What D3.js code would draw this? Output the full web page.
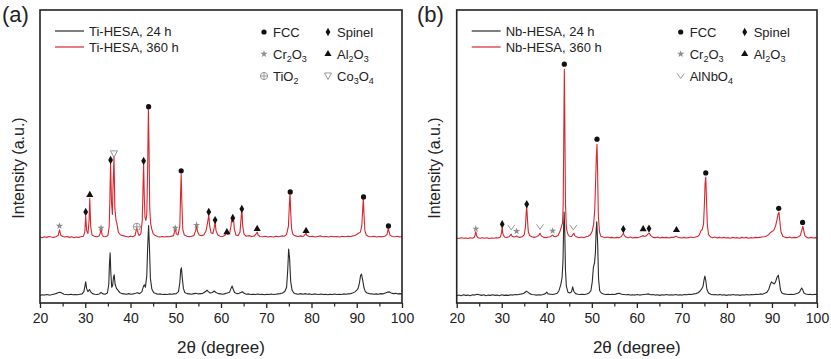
<!DOCTYPE html>
<html>
<head>
<meta charset="utf-8">
<script src="https://cdn.jsdelivr.net/npm/d3@7"></script>
<style>
  body { margin: 0; background: #fff; }
  svg { display: block; font-family: "Liberation Sans", Arial, sans-serif; }
</style>
</head>
<body>
<svg id="chart" width="831" height="359"></svg>
<script>
// ---------------- data (2theta, intensity a.u. above each curve's baseline)
const xTicks = [20, 30, 40, 50, 60, 70, 80, 90, 100];
const xMinor = [25, 35, 45, 55, 65, 75, 85, 95];

const seriesNamesA = ['Ti-HESA, 24 h', 'Ti-HESA, 360 h'];
const seriesNamesB = ['Nb-HESA, 24 h', 'Nb-HESA, 360 h'];
const offsetsA = [2.4, 22.2];   // stacking of 24 h / 360 h curves
const offsetsB = [2.2, 21.8];

const phasesA = [['fcc', 'FCC'], ['sp', 'Spinel'], ['cr', 'Cr2O3'], ['al', 'Al2O3'], ['ti', 'TiO2'], ['co', 'Co3O4']];
const phasesB = [['fcc', 'FCC'], ['sp', 'Spinel'], ['cr', 'Cr2O3'], ['al', 'Al2O3'], ['nb', 'AlNbO4']];

const blackA = [
  [20,0.2],[20.5,0.4],[21,0.3],[21.5,0.5],[22,0.3],[22.5,0.4],[23,0.6],[23.5,0.8],[24,1.1],[24.4,1.3],[24.8,1.0],[25.3,0.6],[25.8,0.5],[26.3,0.4],[26.8,0.6],[27.3,0.4],[27.8,0.5],[28.3,0.4],[28.8,0.6],[29.3,0.7],[29.7,1.5],[29.95,3.5],[30.1,4.8],[30.3,2.5],[30.6,1.5],[30.95,2.2],[31.2,1.4],[31.6,0.8],[32.1,0.6],[32.6,0.5],[33.1,0.7],[33.5,1.2],[33.9,0.7],[34.4,0.6],[34.9,1.0],[35.2,4],[35.35,11],[35.5,14.7],[35.65,8],[35.85,3],[36.05,3.5],[36.25,6.5],[36.4,7.2],[36.6,4],[36.9,2.6],[37.2,2],[37.6,1.2],[38.1,0.8],[38.6,0.7],[39.1,0.6],[39.6,0.8],[40.1,0.6],[40.6,0.7],[41.1,0.9],[41.5,1.1],[42,0.8],[42.5,1.4],[42.85,3.2],[43.05,3.8],[43.3,3],[43.6,7],[43.8,17],[44.0,24],[44.2,16],[44.4,6],[44.7,2.5],[45.1,1.2],[45.6,0.8],[46.1,0.6],[46.6,0.7],[47.1,0.5],[47.6,0.6],[48.1,0.5],[48.6,0.7],[49.1,0.6],[49.6,0.7],[50.1,0.8],[50.6,1.5],[50.9,4.5],[51.1,9],[51.25,9.6],[51.45,6],[51.7,2.5],[52,1.2],[52.5,0.8],[53,0.7],[53.5,0.6],[54,0.8],[54.5,0.9],[55,0.7],[55.5,0.8],[56,0.9],[56.6,1.5],[56.9,2],[57.2,1.5],[57.6,1.0],[58.1,1.2],[58.5,1.7],[58.9,1.2],[59.4,0.8],[59.9,0.7],[60.4,0.6],[60.9,0.8],[61.4,1.0],[61.9,1.3],[62.2,2.5],[62.45,3.4],[62.7,2.3],[63,1.2],[63.5,0.8],[64,0.9],[64.5,1.3],[64.8,1.4],[65.1,0.9],[65.6,0.6],[66.1,0.7],[66.6,0.5],[67.1,0.6],[67.6,0.5],[68.1,0.7],[68.6,0.5],[69.1,0.6],[69.6,0.4],[70.1,0.6],[70.6,0.5],[71.1,0.7],[71.6,0.5],[72.1,0.6],[72.6,0.7],[73.1,0.8],[73.6,1.0],[74.1,1.5],[74.5,3],[74.75,9],[74.95,16],[75.15,13],[75.4,5],[75.7,2],[76.1,1.0],[76.6,0.7],[77.1,0.6],[77.6,0.8],[78.1,0.6],[78.6,0.8],[79.1,0.6],[79.6,0.7],[80.1,0.5],[80.6,0.7],[81.1,0.6],[81.6,0.5],[82.1,0.7],[82.6,0.5],[83.1,0.6],[83.6,0.4],[84.1,0.6],[84.6,0.5],[85.1,0.7],[85.6,0.5],[86.1,0.6],[86.6,0.5],[87.1,0.7],[87.6,0.6],[88.1,0.7],[88.6,0.8],[89.1,1.0],[89.6,1.4],[90.0,2],[90.3,2.6],[90.6,4.5],[90.85,7],[91.05,7.5],[91.3,5.5],[91.6,2.8],[91.9,1.5],[92.3,1.0],[92.8,0.8],[93.3,0.7],[93.8,0.6],[94.3,0.7],[94.8,0.6],[95.3,0.8],[95.8,0.7],[96.3,1.0],[96.8,1.3],[97.2,1.4],[97.6,1.0],[98.1,0.8],[98.6,0.9],[99.1,0.7],[99.6,0.8],[100,0.6]
];

const redA = [
  [20,0.3],[20.5,0.1],[21,0.4],[21.5,0.2],[22,0.5],[22.5,0.3],[23,0.2],[23.5,0.4],[24,0.8],[24.3,2.8],[24.6,0.9],[25,0.5],[25.5,0.3],[26,0.5],[26.5,0.2],[27,0.4],[27.5,0.1],[28,0.3],[28.5,0.2],[29,0.4],[29.6,0.6],[29.9,2],[30.1,7.6],[30.3,2.5],[30.6,1.5],[30.85,6],[31.0,13.5],[31.2,4],[31.5,1],[32,0.6],[32.5,0.4],[33,0.6],[33.3,1.5],[33.5,3.2],[33.7,1.2],[34,0.5],[34.5,0.4],[35,0.8],[35.3,4],[35.45,14],[35.6,25.5],[35.8,12],[36.0,8],[36.15,18],[36.35,27.5],[36.55,10],[36.8,6],[37.0,5],[37.3,2],[37.8,1.0],[38.3,0.8],[39,0.5],[39.5,0.3],[40,0.6],[40.5,0.4],[41,0.8],[41.2,2.2],[41.4,3.4],[41.6,2],[41.9,0.8],[42.3,1.5],[42.6,6],[42.75,16],[42.9,25.3],[43.05,14],[43.2,7],[43.4,6],[43.6,8],[43.8,25],[43.95,44],[44.1,30],[44.25,10],[44.45,5],[44.7,3],[45,1.5],[45.5,0.8],[46,0.5],[46.5,0.3],[47,0.5],[47.5,0.3],[48,0.5],[48.5,0.4],[49,0.6],[49.5,0.8],[49.8,2.5],[49.95,3.4],[50.1,1.5],[50.5,1],[50.9,4],[51.05,14],[51.2,21.8],[51.35,12],[51.55,3],[51.9,1],[52.5,0.6],[53,0.4],[53.5,0.6],[54,0.8],[54.4,2.5],[54.6,4.4],[54.8,2.2],[55.2,1],[55.7,0.8],[56.2,1],[56.7,2.5],[57.0,5],[57.3,7.8],[57.5,4],[57.8,1.8],[58.2,1.5],[58.5,3.5],[58.7,5.5],[58.9,2.5],[59.3,1],[59.8,0.6],[60.3,0.5],[60.8,0.8],[61.1,1.5],[61.3,2],[61.5,1.2],[61.9,1.5],[62.2,4],[62.4,6.8],[62.55,5.5],[62.75,6.8],[62.95,3],[63.3,1],[63.8,0.8],[64.2,2],[64.45,7],[64.6,10.2],[64.8,4],[65.1,1.2],[65.6,0.6],[66.2,0.8],[66.8,0.5],[67.4,0.7],[67.8,1.5],[68,2],[68.2,1],[68.6,0.5],[69.2,0.4],[69.8,0.6],[70.4,0.3],[71,0.5],[71.6,0.3],[72.2,0.6],[72.8,0.4],[73.4,0.7],[74,0.6],[74.5,1.2],[74.9,4],[75.1,11],[75.25,15.4],[75.4,9],[75.6,3],[75.9,1.2],[76.4,0.7],[77,0.5],[77.6,0.7],[78.2,0.5],[78.6,1.2],[78.8,1.7],[79,0.8],[79.6,0.4],[80.2,0.6],[80.8,0.3],[81.4,0.5],[82,0.7],[82.6,0.4],[83.2,0.5],[83.8,0.3],[84.4,0.6],[85,0.4],[85.6,0.5],[86.2,0.3],[86.8,0.6],[87.4,0.4],[88,0.6],[88.6,0.5],[89.2,0.7],[89.8,1],[90.3,1.5],[90.8,2],[91.1,4],[91.3,9],[91.45,13.7],[91.6,8],[91.8,2.5],[92.1,1],[92.6,0.5],[93.2,0.4],[93.8,0.6],[94.4,0.3],[95,0.5],[95.6,0.4],[96.2,0.6],[96.7,1.2],[96.9,2.8],[97.0,3.4],[97.15,2],[97.4,0.8],[97.9,0.5],[98.5,0.4],[99,0.6],[99.5,0.3],[100,0.5]
];

const blackB = [
  [20,0.3],[20.5,0.5],[21,0.3],[21.5,0.6],[22,0.4],[22.5,0.5],[23,0.3],[23.5,0.6],[24,0.5],[24.5,0.8],[25,0.6],[25.5,0.4],[26,0.6],[26.5,0.3],[27,0.5],[27.5,0.4],[28,0.6],[28.5,0.4],[29,0.5],[29.5,0.3],[30,0.6],[30.5,0.4],[31,0.5],[31.5,0.4],[32,0.6],[32.5,0.5],[33,0.7],[33.5,0.6],[34,0.8],[34.5,0.9],[35,1.2],[35.5,1.8],[35.8,1.5],[36.2,1.0],[36.7,0.7],[37.2,0.6],[37.7,0.5],[38.2,0.6],[38.7,0.5],[39.2,0.7],[39.7,1.0],[40.0,1.5],[40.3,0.9],[40.8,0.8],[41.3,0.7],[41.8,0.9],[42.3,1.1],[42.7,2],[43.1,4],[43.4,6.5],[43.6,12],[43.75,24],[43.85,28.8],[44.0,22],[44.15,9],[44.35,3.5],[44.7,1.5],[45.1,1.2],[45.5,1.6],[45.75,3.3],[46.0,1.8],[46.4,1.0],[46.9,0.8],[47.4,0.7],[47.9,0.8],[48.4,0.7],[48.9,0.9],[49.4,1.2],[49.8,2],[50.1,5],[50.35,10],[50.6,11.5],[50.8,15],[50.95,22],[51.1,25.5],[51.3,18],[51.5,6],[51.75,2],[52.1,1.2],[52.6,0.9],[53.1,0.7],[53.6,0.8],[54.1,0.7],[54.6,0.8],[55.1,0.7],[55.6,1.0],[56.1,1.1],[56.6,0.8],[57.1,0.7],[57.6,0.6],[58.1,0.7],[58.6,0.5],[59.1,0.6],[59.6,0.5],[60.1,0.7],[60.6,0.5],[61.1,0.6],[61.6,0.7],[62.1,0.8],[62.6,0.9],[63.1,0.6],[63.6,0.7],[64.1,0.5],[64.6,0.6],[65.1,0.4],[65.6,0.6],[66.1,0.5],[66.6,0.7],[67.1,0.5],[67.6,0.6],[68.1,0.5],[68.6,0.7],[69.1,0.5],[69.6,0.6],[70.1,0.5],[70.6,0.7],[71.1,0.6],[71.6,0.8],[72.1,0.7],[72.6,0.9],[73.1,1.0],[73.6,1.3],[74.0,1.8],[74.4,2.6],[74.7,3.5],[74.9,5.5],[75.1,7],[75.3,5.5],[75.55,2.5],[75.9,1.2],[76.4,0.8],[76.9,0.6],[77.4,0.7],[77.9,0.5],[78.4,0.7],[78.9,0.5],[79.4,0.6],[79.9,0.4],[80.4,0.6],[80.9,0.5],[81.4,0.7],[81.9,0.5],[82.4,0.6],[82.9,0.4],[83.4,0.6],[83.9,0.5],[84.4,0.7],[84.9,0.5],[85.4,0.7],[85.9,0.6],[86.4,0.8],[86.9,0.7],[87.4,0.9],[87.9,0.8],[88.4,1.1],[88.9,1.5],[89.3,2.5],[89.6,4],[89.9,5],[90.2,4.6],[90.5,4.3],[90.8,5],[91.1,6.5],[91.4,7.3],[91.65,5],[91.9,2.2],[92.2,1.2],[92.7,0.9],[93.2,0.8],[93.7,0.7],[94.2,0.8],[94.7,0.7],[95.2,0.9],[95.7,1.1],[96.1,1.5],[96.4,2.4],[96.6,2.9],[96.85,2.2],[97.1,1.2],[97.5,0.9],[98,0.7],[98.5,0.8],[99,0.6],[99.5,0.8],[100,0.7]
];

const redB = [
  [20,0.4],[20.5,0.2],[21,0.5],[21.5,0.3],[22,0.4],[22.5,0.2],[23,0.5],[23.5,0.3],[23.9,0.6],[24.1,1.5],[24.25,2.6],[24.4,1.2],[24.7,0.5],[25.2,0.3],[25.7,0.5],[26.2,0.3],[26.7,0.5],[27.2,0.2],[27.7,0.4],[28.2,0.3],[28.7,0.5],[29.2,0.4],[29.7,0.7],[29.95,2.2],[30.1,4.1],[30.25,1.8],[30.6,0.7],[31.1,0.6],[31.6,0.8],[31.9,1.3],[32.1,1.7],[32.3,1.0],[32.7,0.7],[33.1,0.9],[33.3,1.1],[33.5,0.8],[34,0.6],[34.5,0.8],[35,1.5],[35.25,4],[35.45,9.5],[35.55,11],[35.7,7],[35.9,2.5],[36.2,1.2],[36.7,0.8],[37.2,0.6],[37.7,0.8],[38.2,1.2],[38.5,2],[38.8,1.1],[39.3,0.6],[39.8,0.5],[40.3,0.7],[40.8,0.8],[41.1,1.2],[41.3,1.4],[41.5,1.0],[42,0.8],[42.5,1.2],[42.9,2.5],[43.2,4],[43.5,5.5],[43.65,12],[43.8,40],[43.9,58],[44.0,42],[44.15,12],[44.35,4],[44.6,2],[45,1],[45.5,0.9],[45.8,1.6],[46.0,2],[46.2,1.2],[46.7,0.7],[47.2,0.5],[47.7,0.7],[48.2,0.5],[48.7,0.8],[49.2,1.0],[49.7,1.5],[50.1,2.8],[50.4,5],[50.65,10],[50.85,20],[51.0,28],[51.15,32.4],[51.3,22],[51.45,8],[51.7,2.5],[52,1],[52.5,0.7],[53,0.5],[53.5,0.7],[54,0.5],[54.5,0.6],[55,0.4],[55.5,0.6],[56,0.5],[56.5,0.8],[56.8,1.5],[57.0,2],[57.2,1.3],[57.6,0.7],[58.1,0.5],[58.6,0.7],[59.1,0.4],[59.6,0.6],[60.1,0.5],[60.6,0.7],[61.1,1],[61.35,1.3],[61.6,0.9],[62.1,1.1],[62.5,1.8],[62.8,2],[63.1,1.2],[63.6,0.6],[64.1,0.5],[64.6,0.7],[65.1,0.4],[65.6,0.6],[66.1,0.5],[66.6,0.6],[67.1,0.4],[67.6,0.6],[68.2,0.6],[68.6,0.9],[68.8,1],[69.0,0.7],[69.5,0.5],[70,0.4],[70.5,0.6],[71,0.4],[71.5,0.5],[72,0.7],[72.5,0.5],[73,0.7],[73.5,0.9],[73.9,1.5],[74.2,2.8],[74.5,3.2],[74.8,5],[75.0,12],[75.15,19],[75.3,21.2],[75.45,14],[75.65,5],[75.9,1.6],[76.3,0.8],[76.8,0.5],[77.3,0.7],[77.8,0.4],[78.3,0.6],[78.8,0.4],[79.3,0.6],[79.8,0.4],[80.3,0.5],[80.8,0.3],[81.3,0.6],[81.8,0.4],[82.3,0.5],[82.8,0.3],[83.3,0.6],[83.8,0.4],[84.3,0.6],[84.8,0.3],[85.3,0.5],[85.8,0.4],[86.3,0.6],[86.8,0.5],[87.3,0.6],[87.8,0.7],[88.3,0.8],[88.8,1.1],[89.3,1.6],[89.7,2.3],[90.0,2.6],[90.4,3],[90.8,4.5],[91.1,6.5],[91.35,8.5],[91.55,9.2],[91.75,6],[92,2.5],[92.4,1.0],[92.9,0.6],[93.4,0.5],[93.9,0.7],[94.4,0.4],[94.9,0.6],[95.4,0.5],[95.9,0.8],[96.3,1.3],[96.6,2.8],[96.85,4.4],[97.05,3],[97.3,1.2],[97.7,0.6],[98.2,0.4],[98.7,0.6],[99.2,0.4],[99.7,0.5],[100,0.4]
];

// peak labels on the 360 h curves: [2theta, phase, label height a.u.]
const markersA = [
  [24.3,'cr',4.1],[30.1,'sp',8.9],[31.0,'al',14.7],[33.5,'cr',3.4],[35.6,'sp',26.6],[36.35,'co',28.7],
  [41.4,'ti',3.8],[42.9,'sp',26.3],[44.0,'fcc',44.8],[49.9,'cr',3.4],[51.2,'fcc',22.9],[54.6,'cr',4.4],
  [57.3,'sp',8.9],[58.7,'sp',6.1],[61.3,'al',2.0],[62.6,'sp',6.8],[64.6,'sp',9.9],[68.0,'al',3.1],
  [75.3,'fcc',15.7],[78.8,'al',2.4],[91.5,'fcc',14.0],[97.0,'fcc',4.1]
];
const markersB = [
  [24.25,'cr',3.5],[30.1,'sp',5.1],[32.1,'nb',4.0],[33.3,'cr',2.7],[35.55,'sp',11.9],[38.5,'nb',4.2],
  [41.3,'cr',2.8],[43.9,'fcc',59.7],[45.9,'nb',4.0],[51.15,'fcc',34.1],[57.0,'sp',3.4],[61.4,'al',3.4],
  [62.7,'sp',3.6],[68.8,'al',3.1],[75.3,'fcc',22.6],[91.5,'fcc',10.5],[96.8,'fcc',5.7]
];

// ---------------- drawing
const svg = d3.select('#chart');
const lineColors = ['#2b2b2b', '#d8262e'];
const grey = '#8c8c8c';

function drawMarker(g, kind, cx, cy) {
    const m = g.append('g').attr('transform', `translate(${cx},${cy})`);
    if (kind === 'fcc') {
        m.append('circle').attr('r', 2.6).attr('fill', '#111');
    } else if (kind === 'sp') {
        m.append('path').attr('d', d3.symbol(d3.symbolDiamond, 20)()).attr('fill', '#111');
    } else if (kind === 'al') {
        m.append('path').attr('d', d3.symbol(d3.symbolTriangle, 22)()).attr('fill', '#111');
    } else if (kind === 'cr') {
        m.append('path').attr('d', d3.symbol(d3.symbolStar, 16)()).attr('fill', grey);
    } else if (kind === 'ti') {
        m.append('circle').attr('r', 3.6).attr('fill', 'none').attr('stroke', grey).attr('stroke-width', 0.9);
        m.append('path').attr('d', 'M-3.6,0H3.6M0,-3.6V3.6').attr('stroke', grey).attr('stroke-width', 0.9);
    } else if (kind === 'co') {
        m.append('path').attr('d', 'M-3.5,-3L3.5,-3L0,3.5Z').attr('fill', 'none').attr('stroke', grey).attr('stroke-width', 0.9);
    } else if (kind === 'nb') {
        m.append('path').attr('d', 'M-3.5,-2.5L0,2.5L3.5,-2.5').attr('fill', 'none').attr('stroke', grey).attr('stroke-width', 0.9);
    }
}

// digits become subscripts in phase names
function subText(t, str) {
    str.split(/(\d+)/).forEach((part, i) => {
        if (part === '') return;
        if (i % 2 === 1) {
            t.append('tspan').attr('font-size', 9).attr('dy', 3).text(part);
        } else {
            t.append('tspan').attr('dy', i > 0 ? -3 : 0).text(part);
        }
    });
}

function drawPanel(p) {
    const x = d3.scaleLinear().domain([20, 100]).range([p.left, p.right]);
    const y = d3.scaleLinear().domain([0, 100]).range([p.bottom, p.top]);
    const g = svg.append('g');

    // curves, 24 h first then 360 h on top
    [p.black, p.red].forEach((s, i) => {
        const line = d3.line()
            .x(d => x(d[0]))
            .y(d => y(d[1] + p.offsets[i]));
        g.append('path')
            .datum(s)
            .attr('fill', 'none')
            .attr('stroke', lineColors[i])
            .attr('stroke-width', 1.1)
            .attr('stroke-linejoin', 'round')
            .attr('d', line);
    });

    // peak labels
    p.markers.forEach(m => {
        drawMarker(g, m[1], x(m[0]), y(m[2] + p.offsets[1]));
    });

    // x axis, ticks outward
    g.append('g')
        .attr('transform', `translate(0,${p.bottom})`)
        .call(d3.axisBottom(x).tickValues(xTicks).tickSize(5).tickPadding(5).tickFormat(d3.format('d')))
        .call(a => a.select('.domain').remove())
        .call(a => a.selectAll('line').attr('stroke', '#222').attr('stroke-width', 1.3))
        .call(a => a.selectAll('text').attr('font-size', 14).attr('fill', '#222')
            .attr('font-family', '"Liberation Sans", Arial, sans-serif'));
    g.append('g')
        .attr('transform', `translate(0,${p.bottom})`)
        .call(d3.axisBottom(x).tickValues(xMinor).tickSize(3.5).tickFormat(''))
        .call(a => a.select('.domain').remove())
        .call(a => a.selectAll('line').attr('stroke', '#222').attr('stroke-width', 1.2));

    // frame
    g.append('rect')
        .attr('x', p.left).attr('y', p.top)
        .attr('width', p.right - p.left).attr('height', p.bottom - p.top)
        .attr('fill', 'none').attr('stroke', '#222').attr('stroke-width', 1.6);

    // titles
    g.append('text')
        .attr('x', (p.left + p.right) / 2).attr('y', 353)
        .attr('text-anchor', 'middle').attr('font-size', 17).attr('fill', '#222')
        .text('2θ (degree)');
    g.append('text')
        .attr('transform', `translate(${p.left - 22},168) rotate(-90)`)
        .attr('text-anchor', 'middle').attr('dy', '0.35em')
        .attr('font-size', 16).attr('fill', '#222')
        .text('Intensity (a.u.)');
    g.append('text')
        .attr('x', p.labelX).attr('y', 22)
        .attr('font-size', 22).attr('fill', '#222')
        .text(p.label);

    // series legend
    p.names.forEach((name, i) => {
        const ly = 31 + i * 16;
        g.append('line')
            .attr('x1', p.left + 15).attr('x2', p.left + 44)
            .attr('y1', ly).attr('y2', ly)
            .attr('stroke', lineColors[i]).attr('stroke-width', 1.2);
        g.append('text')
            .attr('x', p.left + 49).attr('y', ly + 4.5)
            .attr('font-size', 13).attr('fill', '#222')
            .text(name);
    });

    // phase legend, two columns
    p.phases.forEach((ph, i) => {
        const col = i % 2;
        const row = Math.floor(i / 2);
        const lx = p.left + 224 + col * 64;
        const ly = 32 + row * 22;
        drawMarker(g, ph[0], lx, ly);
        const t = g.append('text')
            .attr('x', lx + 9).attr('y', ly + 4.5)
            .attr('font-size', 13).attr('fill', '#222');
        subText(t, ph[1]);
    });
}

drawPanel({
    left: 40, right: 402, top: 10, bottom: 303, label: '(a)', labelX: 2,
    black: blackA, red: redA, offsets: offsetsA, markers: markersA,
    names: seriesNamesA, phases: phasesA
});
drawPanel({
    left: 456.7, right: 817, top: 10, bottom: 303, label: '(b)', labelX: 417,
    black: blackB, red: redB, offsets: offsetsB, markers: markersB,
    names: seriesNamesB, phases: phasesB
});
</script>
</body>
</html>
